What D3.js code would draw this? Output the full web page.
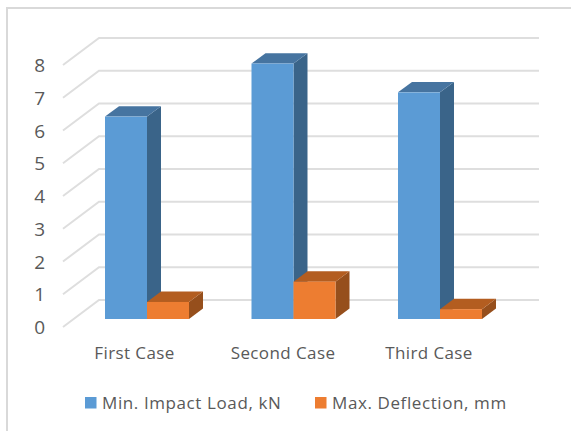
<!DOCTYPE html>
<html>
<head>
<meta charset="utf-8">
<script src="https://cdn.jsdelivr.net/npm/d3@7"></script>
<style>
html,body{margin:0;padding:0;background:#fff}
svg{display:block}
text{font-family:"Open Sans",sans-serif;fill:#595959}
</style>
</head>
<body>
<script>
// Clustered 3D column chart: impact load and deflection for three cases.
const categories = ["First Case", "Second Case", "Third Case"];
const seriesNames = ["Min. Impact Load, kN", "Max. Deflection, mm"];
const impactLoad = [6.18, 7.8, 6.92];
const deflection = [0.52, 1.14, 0.3];
const valueTicks = [0, 1, 2, 3, 4, 5, 6, 7, 8];

const width = 571, height = 431;
const faces = [
  {front: "#5b9bd5", top: "#4674a0", side: "#3a6489"},
  {front: "#ed7d31", top: "#b35d20", side: "#964f1c"}
];
const values = [impactLoad, deflection];

const svg = d3.select("body").append("svg").attr("width", width).attr("height", height);

// Chart frame: only the top and left edges fall inside the canvas.
svg.append("path")
  .attr("d", `M7 ${height}V8H${width}`)
  .attr("fill", "none").attr("stroke", "#d9d9d9").attr("stroke-width", 2);

// Wall depth of the floor, and the offset of the columns within it.
const wallDx = 36, wallDy = 27;
const barDx = 14, barDy = 10.4;

const yFront = d3.scaleLinear().domain([0, 8]).range([327, 65]);
const x0 = d3.scaleBand().domain(categories).range([73.75, 513.25])
  .paddingInner(0.4266).paddingOuter(0.2133);
const x1 = d3.scaleBand().domain(seriesNames).range([0, x0.bandwidth()]);
// Columns stand partway back on the floor.
const yBar = v => yFront(v) - 8;

// Gridlines: a slanted run on the side wall, then straight across the back wall.
svg.append("g").selectAll("path").data(valueTicks).join("path")
  .attr("d", d => {
    const y = yFront(d);
    return `M63 ${y}L${63 + wallDx} ${y - wallDy}H539`;
  })
  .attr("fill", "none").attr("stroke", "#dedede").attr("stroke-width", 2);

// Columns are drawn left to right so that later clusters overlap correctly.
const rows = categories.flatMap((c, i) =>
  seriesNames.map((s, j) => ({c, s, j, v: values[j][i]})));

const bars = svg.append("g").selectAll("g").data(rows).join("g");
bars.append("path")
  .attr("fill", d => faces[d.j].side)
  .attr("d", d => {
    const r = x0(d.c) + x1(d.s) + x1.bandwidth(), t = yBar(d.v), b = yBar(0);
    return `M${r} ${t}l${barDx} ${-barDy}V${b - barDy}L${r} ${b}Z`;
  });
bars.append("path")
  .attr("fill", d => faces[d.j].top)
  .attr("d", d => {
    const l = x0(d.c) + x1(d.s), r = l + x1.bandwidth(), t = yBar(d.v);
    return `M${l} ${t}l${barDx} ${-barDy}H${r + barDx}L${r} ${t}Z`;
  });
bars.append("rect")
  .attr("fill", d => faces[d.j].front)
  .attr("x", d => x0(d.c) + x1(d.s))
  .attr("y", d => yBar(d.v))
  .attr("width", x1.bandwidth())
  .attr("height", d => yBar(0) - yBar(d.v));

// Value axis, labels only.
const yAxis = svg.append("g").attr("transform", "translate(45,0.6)")
  .call(d3.axisLeft(yFront).tickValues(valueTicks).tickSize(0).tickPadding(0).tickFormat(d3.format("d")));
yAxis.select(".domain").remove();
yAxis.selectAll("text").style("font-size", "19px").style("font-family", '"Open Sans",sans-serif').attr("fill", "#595959");

// Category axis, labels only.
const catAxisScale = d3.scaleOrdinal().domain(categories).range([134, 282.5, 428.5]);
const xAxis = svg.append("g").attr("transform", "translate(0,347)")
  .call(d3.axisBottom(catAxisScale).tickSize(0).tickPadding(0));
xAxis.select(".domain").remove();
xAxis.selectAll("text").style("font-size", "17px").style("letter-spacing", "0.4px")
  .style("font-family", '"Open Sans",sans-serif').attr("fill", "#595959");

// Legend.
const legendX = [85, 315];
const legend = svg.append("g").selectAll("g").data(seriesNames).join("g")
  .attr("transform", (d, i) => `translate(${legendX[i]},397)`);
legend.append("rect").attr("width", 11.5).attr("height", 11.5).attr("fill", (d, i) => faces[i].front);
legend.append("text").attr("x", 17).attr("y", 12).style("font-size", "17px").style("letter-spacing", "0.6px").text(d => d);
</script>
</body>
</html>
